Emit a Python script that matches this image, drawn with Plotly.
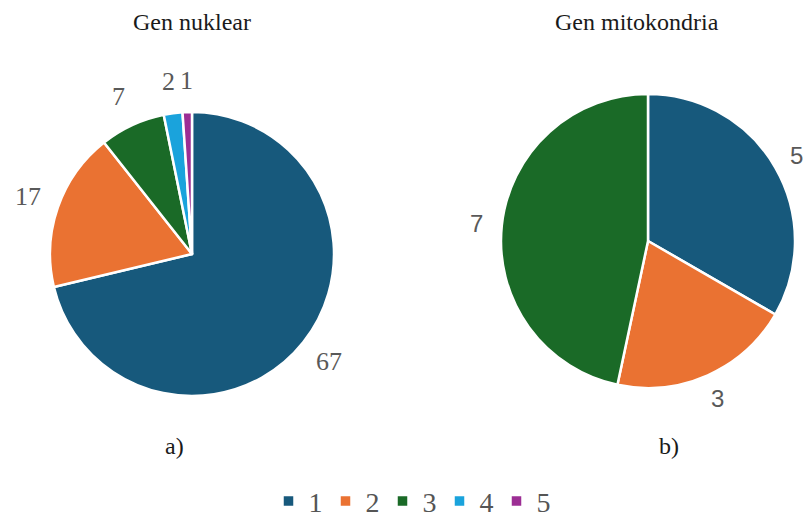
import math
import plotly.graph_objects as go

categories = ["1", "2", "3", "4", "5"]
nuklear_values = [67, 17, 7, 2, 1]
mito_categories = ["1", "2", "3"]
mito_values = [5, 3, 7]
colors = ["#17597c", "#ea7232", "#1a6a27", "#1aa3dc", "#9c2e94"]

W, H = 808, 520
SERIF = "Liberation Serif, Times New Roman, serif"
SANS = "Liberation Sans, Arial, sans-serif"

# pie geometry in pixels: (cx, cy, r)
left_geo = (192, 254, 142)
right_geo = (648, 241, 147)


def domain(geo):
    cx, cy, r = geo
    return dict(x=[(cx - r) / W, (cx + r) / W], y=[1 - (cy + r) / H, 1 - (cy - r) / H])


fig = go.Figure()
fig.add_trace(go.Pie(
    labels=categories, values=nuklear_values, sort=False, direction="clockwise",
    rotation=0, marker=dict(colors=colors, line=dict(color="white", width=2.5)),
    textinfo="none", domain=domain(left_geo),
    showlegend=True, hoverinfo="label+value",
))
fig.add_trace(go.Pie(
    labels=mito_categories, values=mito_values, sort=False, direction="clockwise",
    rotation=0, marker=dict(colors=colors[:3], line=dict(color="white", width=2.5)),
    textinfo="none", domain=domain(right_geo),
    showlegend=False, hoverinfo="label+value",
))


def add_value_labels(values, geo, offset, font):
    cx, cy, r = geo
    total = sum(values)
    start = 0.0
    for v in values:
        mid = (start + v / 2) / total * 2 * math.pi
        start += v
        d = r + offset
        x = cx + d * math.sin(mid)
        y = cy - d * math.cos(mid)
        fig.add_annotation(text=str(v), x=x / W, y=1 - y / H, xref="paper", yref="paper",
                           xanchor="center", yanchor="middle", showarrow=False, font=font)


add_value_labels(nuklear_values, left_geo, 32, dict(family=SERIF, size=26, color="#595959"))
add_value_labels(mito_values, right_geo, 25, dict(family=SANS, size=24, color="#595959"))

for txt, x, y in [("Gen nuklear", 192, 22), ("Gen mitokondria", 637, 22), ("a)", 174, 446), ("b)", 669, 446)]:
    fig.add_annotation(text=txt, x=x / W, y=1 - y / H, xref="paper", yref="paper",
                       xanchor="center", yanchor="middle", showarrow=False,
                       font=dict(family=SERIF, size=24, color="#1a1a1a"))

fig.update_layout(
    width=W, height=H, margin=dict(l=0, r=0, t=0, b=0, autoexpand=False),
    paper_bgcolor="white", plot_bgcolor="white",
    legend=dict(orientation="h", x=411 / W, xanchor="center", y=-0.012, yanchor="bottom",
                font=dict(family=SERIF, size=28, color="#555"),
                traceorder="normal", itemwidth=30, entrywidth=12),
)
fig.write_html("out.html", config={"displayModeBar": False},
               post_script="document.body.style.margin='0px';")
